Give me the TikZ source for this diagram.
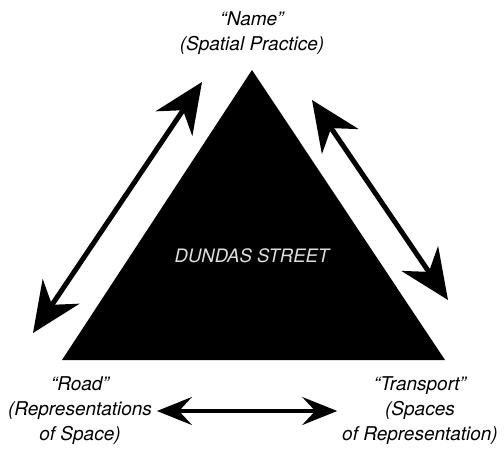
\documentclass[tikz,border=0pt]{standalone}
\usepackage{fontspec}
\setmainfont{TeX Gyre Heros}
\usetikzlibrary{arrows.meta,positioning}
\tikzset{
  bigarrow/.style={{Stealth[length=50pt,width=44pt,inset=16pt]}-{Stealth[length=50pt,width=44pt,inset=16pt]}, line width=5pt},
  smallarrow/.style={{Stealth[length=35pt,width=28pt,inset=13pt]}-{Stealth[length=35pt,width=28pt,inset=13pt]}, line width=3.5pt},
  corner/.style={font=\fontsize{19}{25}\selectfont\itshape, align=center, inner sep=0pt, outer sep=5pt},
  streetname/.style={font=\fontsize{18.5}{22}\selectfont\itshape, text=black!12},
  street/.style={fill=black}
}

\begin{document}
\begin{tikzpicture}[x=1pt,y=-1pt]
  \useasboundingbox (0,0) rectangle (504,453);
  \fill[street] (252,70) -- (445,360) -- (62,360) -- cycle;
  \node[streetname] (street) at (252,256) {DUNDAS STREET};
  \node[corner] (name) at (252,33) {“Name”\\(Spatial Practice)};
  \node[corner] (road) at (80,411) {“Road”\\(Representations\\of Space)};
  \node[corner] (transport) at (420,411) {“Transport”\\(Spaces\\of Representation)};
  \coordinate (roadtip) at (33,333);
  \coordinate (nametipl) at (202,82);
  \coordinate (nametipr) at (312,100);
  \coordinate (transporttip) at (448,300);
  \draw[bigarrow] (roadtip) -- (nametipl);
  \draw[bigarrow] (nametipr) -- (transporttip);
  \draw[smallarrow] (road) -- (transport);
\end{tikzpicture}
\end{document}
